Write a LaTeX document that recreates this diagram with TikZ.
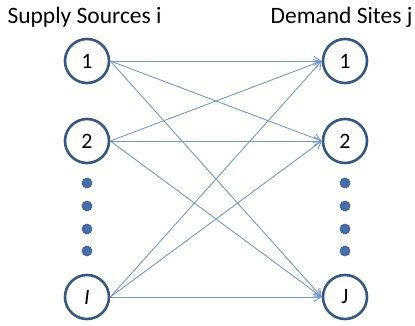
\documentclass[tikz,border=0pt]{standalone}
\usepackage{fontspec}
\setmainfont{Carlito}
\usetikzlibrary{arrows.meta}
\definecolor{RingClr}{RGB}{56,86,130}
\definecolor{FlowClr}{RGB}{120,150,195}
\definecolor{DotClr}{RGB}{70,110,170}

\begin{document}
\begin{tikzpicture}[x=1pt,y=-1pt]
\tikzset{site/.style={circle,draw=RingClr,line width=2.6pt,minimum size=44pt,inner sep=0pt,font=\fontsize{22}{24}\selectfont},
  dotnode/.style={circle,fill=DotClr,draw=RingClr,line width=0.6pt,minimum size=10pt,inner sep=0pt},
  flow/.style={draw=FlowClr,line width=0.9pt,-{Straight Barb[length=7pt,width=9pt]}}}
\useasboundingbox (0,0) rectangle (415,326);

\node[anchor=west,font=\fontsize{23.5}{25}\selectfont] (supply) at (4,17) {Supply Sources i};
\node[anchor=east,font=\fontsize{23.5}{25}\selectfont] (demand) at (416,17) {Demand Sites j};

\node[site] (s1) at (87,61) {1};
\node[site] (s2) at (87,141) {2};
\node[site] (sI) at (87,297) {\textit{I}};

\node[site] (d1) at (345,61) {1};
\node[site] (d2) at (345,141) {2};
\node[site] (dJ) at (345,297) {J};

% dots between the rows
\foreach \y [count=\k] in {183,206,229,251}{
  \node[dotnode] (ls\k) at (87,\y) {};
  \node[dotnode] (rd\k) at (345,\y) {};
}

\foreach \a in {s1,s2,sI}
  \foreach \b in {d1,d2,dJ}
    \draw[flow] (\a.east) -- (\b.west);

\end{tikzpicture}
\end{document}
